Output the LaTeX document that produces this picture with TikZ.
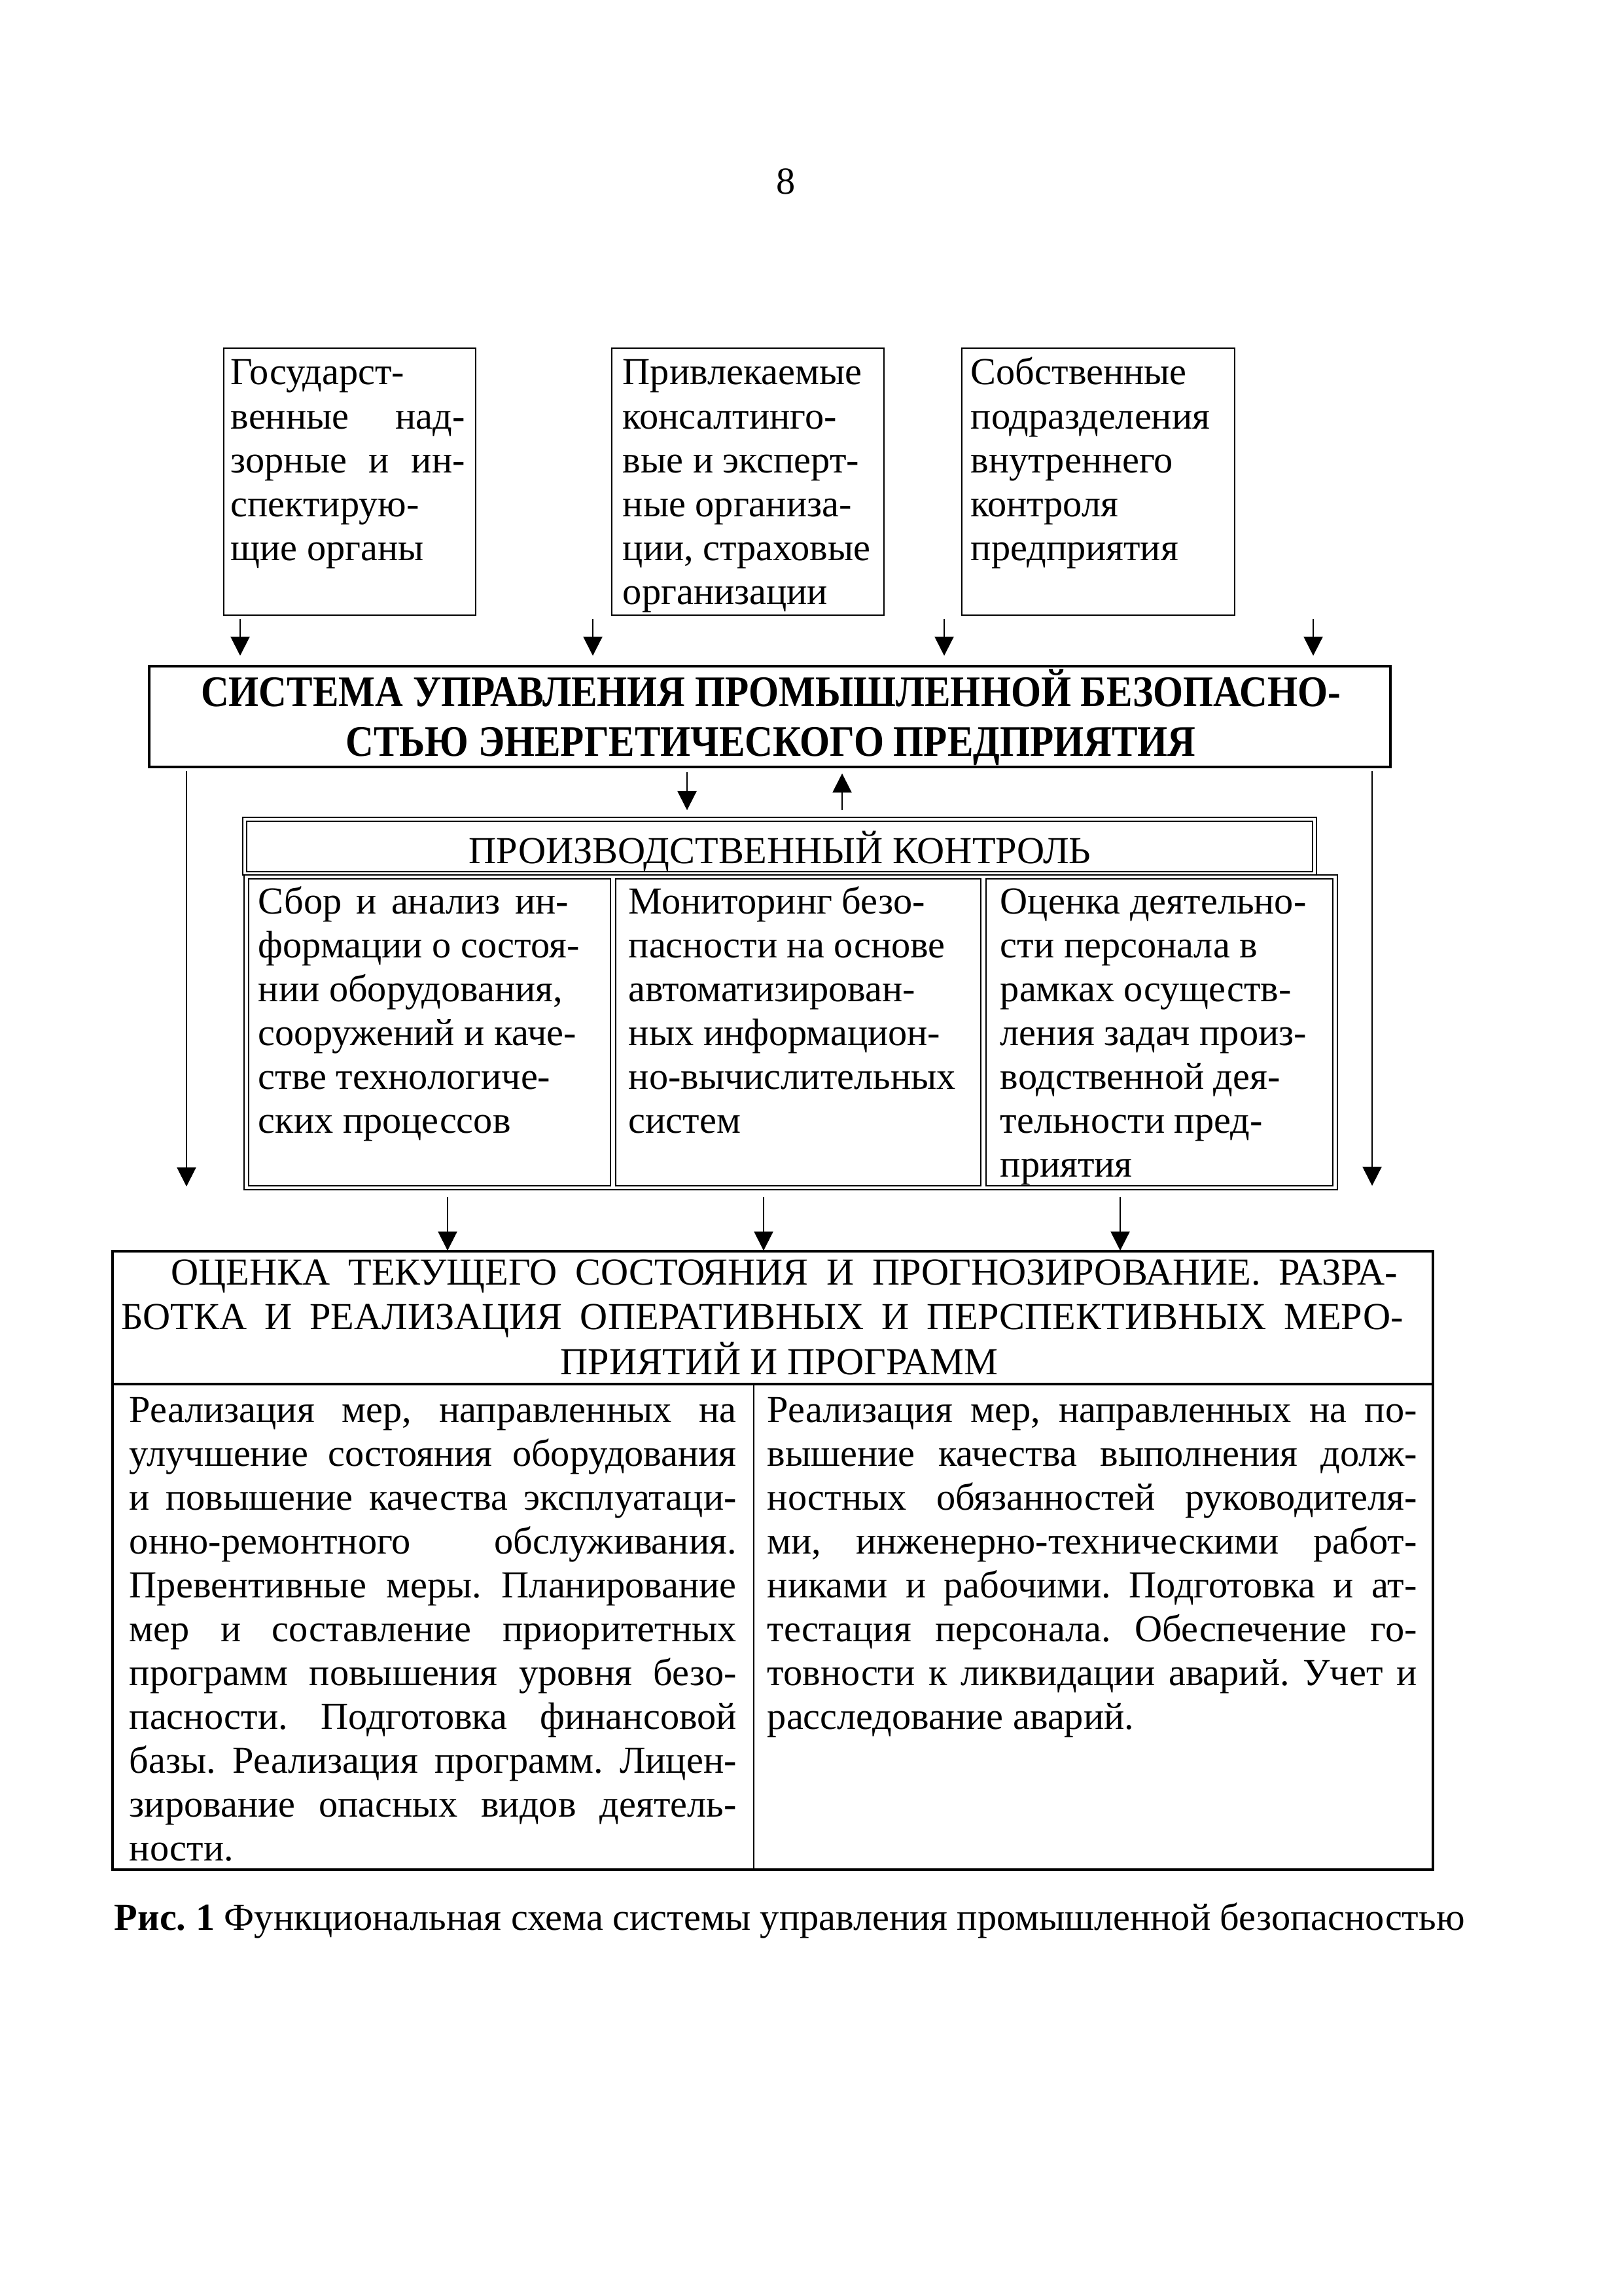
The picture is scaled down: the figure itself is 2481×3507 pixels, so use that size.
\documentclass[tikz,border=0pt]{standalone}
\usepackage{fontspec}
\setmainfont{Liberation Serif}
\newfontfamily\sysfont[FakeStretch=0.888]{Liberation Serif Bold}
\usetikzlibrary{arrows.meta,fit}
\newcommand\fs{\fontsize{14pt}{16.1pt}\selectfont}
\newcommand\topst{\rule{0pt}{13pt}}
\newlength\JW
\newcommand\jl[1]{\makebox[\JW][s]{#1}}
\hbadness=10000
\hfuzz=20pt
\frenchspacing
\begin{document}
\begin{tikzpicture}[x=0.24pt,y=-0.24pt,
  frame/.style={draw,line width=0.75pt,inner sep=0pt},
  thin/.style={draw,line width=0.65pt,inner sep=0pt},
  txt/.style={inner sep=0pt,anchor=north west,align=left,font=\fs},
  arr/.style={-{Triangle[length=7pt,width=7pt]},line width=0.5pt}]
\useasboundingbox (0,0) rectangle (2481,3507);

% page number
\node[inner sep=0pt,anchor=base,font=\fs] (pg) at (1201,297) {8};

% top boxes
\node[thin,fit={(342,532)(727,940)}] (b1) {};
\node[thin,fit={(935,532)(1351,940)}] (b2) {};
\node[thin,fit={(1470,532)(1887,940)}] (b3) {};
\node[txt,text width=86pt] (t1) at (352,533) {\spaceskip=0pt\xspaceskip=0pt\setlength\JW{85.9pt}\noindent\topst\jl{Государст-}\\\jl{венные над-}\\\jl{зорные и ин-}\\\jl{спектирую-}\\щие органы};
\node[txt] (t2) at (951,533) {\topst Привлекаемые\\консалтинго-\\вые и эксперт-\\ные организа-\\ции, страховые\\организации};
\node[txt] (t3) at (1483,533) {\topst Собственные\\подразделения\\внутреннего\\контроля\\предприятия};

% top arrows
\coordinate (a1s) at (367,946);  \coordinate (a1e) at (367,1002);
\coordinate (a2s) at (906,946);  \coordinate (a2e) at (906,1002);
\coordinate (a3s) at (1443,946); \coordinate (a3e) at (1443,1002);
\coordinate (a4s) at (2007,946); \coordinate (a4e) at (2007,1002);
\draw[arr] (a1s) -- (a1e);
\draw[arr] (a2s) -- (a2e);
\draw[arr] (a3s) -- (a3e);
\draw[arr] (a4s) -- (a4e);

% system box
\node[draw,line width=0.85pt,inner sep=0pt,fit={(228,1018)(2125,1172)}] (sys) {};
\node[inner sep=0pt,anchor=north,align=center,font={\fontsize{16pt}{18.3pt}\sysfont}] (syst) at (1178,1016)
  {\rule{0pt}{15pt}СИСТЕМА УПРАВЛЕНИЯ ПРОМЫШЛЕННОЙ БЕЗОПАСНО-\\СТЬЮ ЭНЕРГЕТИЧЕСКОГО ПРЕДПРИЯТИЯ};

% middle arrows
\coordinate (m1s) at (1050,1180); \coordinate (m1e) at (1050,1238);
\coordinate (m2s) at (1287,1238); \coordinate (m2e) at (1287,1182);
\draw[arr] (m1s) -- (m1e);
\draw[arr] (m2s) -- (m2e);
\coordinate (l1s) at (285,1178);  \coordinate (l1e) at (285,1813);
\coordinate (r1s) at (2097,1178); \coordinate (r1e) at (2097,1812);
\draw[arr] (l1s) -- (l1e);
\draw[arr] (r1s) -- (r1e);

% production control
\node[thin,fit={(371,1249)(2012,1337)}] (pkh) {};
\node[thin,fit={(377,1255)(2006,1332)}] (pkhi) {};
\node[inner sep=0pt,anchor=base,font=\fs] (pkt) at (1192,1319) {ПРОИЗВОДСТВЕННЫЙ КОНТРОЛЬ};
\node[thin,fit={(373,1337)(2044,1818)}] (pkc) {};
\node[thin,fit={(380,1343)(933,1812)}] (c1) {};
\node[thin,fit={(941,1343)(1499,1812)}] (c2) {};
\node[thin,fit={(1507,1343)(2037,1812)}] (c3) {};
\node[txt] (c1t) at (394,1341) {\setlength\JW{113.8pt}\topst\jl{Сбор и анализ ин-}\\формации о состоя-\\нии оборудования,\\сооружений и каче-\\стве технологиче-\\ских процессов};
\node[txt] (c2t) at (960,1341) {\topst Мониторинг безо-\\пасности на основе\\автоматизирован-\\ных информацион-\\но-вычислительных\\систем};
\node[txt] (c3t) at (1528,1341) {\topst Оценка деятельно-\\сти персонала в\\рамках осуществ-\\ления задач произ-\\водственной дея-\\тельности пред-\\приятия};

% bottom arrows
\coordinate (d1s) at (684,1829);  \coordinate (d1e) at (684,1911);
\coordinate (d2s) at (1167,1829); \coordinate (d2e) at (1167,1911);
\coordinate (d3s) at (1712,1829); \coordinate (d3e) at (1712,1911);
\draw[arr] (d1s) -- (d1e);
\draw[arr] (d2s) -- (d2e);
\draw[arr] (d3s) -- (d3e);

% bottom box
\node[frame,fit={(172,1912)(2190,2857)}] (bot) {};
\coordinate (hl) at (172,2115); \coordinate (hr) at (2190,2115);
\coordinate (ct) at (1152,2115); \coordinate (cb) at (1152,2857);
\draw[line width=0.75pt] (hl) -- (hr);
\draw[line width=0.6pt] (ct) -- (cb);
\node[inner sep=0pt,anchor=north,align=center,font={\fontsize{14pt}{16.5pt}\selectfont}] (bott) at (1185,1908)
  {\topst\hspace*{6.7pt}\makebox[450pt][s]{ОЦЕНКА ТЕКУЩЕГО СОСТОЯНИЯ И ПРОГНОЗИРОВАНИЕ. РАЗРА-}\\\hspace*{-9.6pt}\makebox[470.3pt][s]{БОТКА И РЕАЛИЗАЦИЯ ОПЕРАТИВНЫХ И ПЕРСПЕКТИВНЫХ МЕРО-}\\\hspace*{2.9pt}ПРИЯТИЙ И ПРОГРАММ};
\node[txt,text width=223pt] (bl) at (197,2118) {\spaceskip=0pt\xspaceskip=0pt\setlength\JW{222.7pt}\noindent\topst\jl{Реализация мер, направленных на}\\\jl{улучшение состояния оборудования}\\\jl{и повышение качества эксплуатаци-}\\\jl{онно-ремонтного обслуживания.}\\\jl{Превентивные меры. Планирование}\\\jl{мер и составление приоритетных}\\\jl{программ повышения уровня безо-}\\\jl{пасности. Подготовка финансовой}\\\jl{базы. Реализация программ. Лицен-}\\\jl{зирование опасных видов деятель-}\\ности.};
\node[txt,text width=239pt] (br) at (1172,2118) {\spaceskip=0pt\xspaceskip=0pt\setlength\JW{238.3pt}\noindent\topst\jl{Реализация мер, направленных на по-}\\\jl{вышение качества выполнения долж-}\\\jl{ностных обязанностей руководителя-}\\\jl{ми, инженерно-техническими работ-}\\\jl{никами и рабочими. Подготовка и ат-}\\\jl{тестация персонала. Обеспечение го-}\\\jl{товности к ликвидации аварий. Учет и}\\расследование аварий.};

% caption
\node[inner sep=0pt,anchor=base west,font=\fs] (cap) at (174,2949) {\textbf{Рис. 1} Функциональная схема системы управления промышленной безопасностью};
\end{tikzpicture}
\end{document}
